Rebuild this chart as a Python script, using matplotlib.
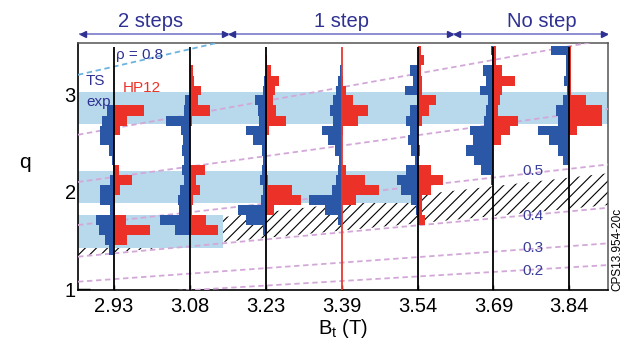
import numpy as np
import matplotlib
matplotlib.use('Agg')
import matplotlib.pyplot as plt
from matplotlib.lines import Line2D

plt.rcParams['font.family'] = ['Liberation Sans', 'DejaVu Sans']
plt.rcParams['mathtext.fontset'] = 'custom'
plt.rcParams['mathtext.rm'] = 'Liberation Sans'
plt.rcParams['hatch.linewidth'] = 0.8

bt_labels = ['2.93', '3.08', '3.23', '3.39', '3.54', '3.69', '3.84']

# q bin edges shared by all histograms (bottom -> top)
q_edges = [1.35, 1.45, 1.56, 1.66, 1.76, 1.86, 1.97, 2.07, 2.17, 2.27, 2.37,
           2.48, 2.58, 2.68, 2.78, 2.89, 2.99, 3.09, 3.19, 3.30, 3.40, 3.50]

# TS exp counts per bin, one row per Bt
ts_exp = [
    [5, 9, 15, 18, 4, 14, 14, 4, 1.5, 2, 5, 14, 14, 12, 7, 0, 0, 0, 0, 0, 0],
    [0, 0, 15, 30, 11, 12, 10, 6, 8, 6, 8, 7, 9, 24, 6, 5, 0, 0, 0, 0, 0],
    [0, 0, 3, 20, 28, 5, 3, 6, 4, 3, 4, 13, 20, 7, 8, 11, 3, 2, 0, 0, 0],
    [0, 0, 0, 4, 17, 33, 10, 6, 4, 3, 7, 14, 20, 9, 12, 9, 6, 4, 2, 0, 0],
    [0, 0, 0, 0, 2, 7, 17, 21, 12, 3, 7, 10, 8, 12, 8, 1, 13, 5, 8, 0, 0],
    [0, 0, 0, 0, 0, 0, 0, 2, 12, 19, 27, 20, 23, 9, 7, 5, 13, 7, 10, 1, 2],
    [0, 0, 0, 0, 0, 0, 0, 0, 0, 6, 11, 20, 31, 11, 13, 6, 2, 5, 3, 3, 18],
]

# HP12 counts per bin
hp12 = [
    [0, 13, 36, 12, 1, 1, 6, 18, 5, 0, 0, 0, 6, 13, 30, 0, 0, 0, 0, 0, 0],
    [0, 0, 28, 16, 2, 3, 10, 6, 15, 0, 0, 0, 0, 2, 20, 8, 11, 4, 3, 0, 0],
    [0, 0, 0, 0, 8, 35, 26, 2, 1, 0, 0, 0, 3, 20, 10, 7, 9, 13, 5, 1, 0],
    [0, 0, 0, 0, 0, 14, 37, 23, 4, 0, 0, 0, 1, 16, 26, 11, 4, 1, 0, 0, 0],
    [0, 0, 0, 7, 4, 4, 13, 25, 13, 0, 2, 0, 0, 4, 11, 18, 4, 4, 3, 6, 3],
    [0, 0, 0, 0, 0, 0, 0, 0, 0, 0, 0, 8, 17, 25, 5, 7, 9, 22, 9, 3, 3],
    [0, 0, 0, 0, 0, 0, 0, 0, 0, 0, 0, 0, 8, 33, 33, 17, 1.5, 1.5, 1.5, 1.5, 1.5],
]

# TS measured q ranges (light blue bands) and where each band ends on the Bt axis
band_lo = [2.695, 1.881, 1.425]
band_hi = [3.027, 2.216, 1.761]
band_end = [6.51, 3.93, 1.43]

# constant-rho q(Bt) curves: q at left and right edge of the plot
rho_names = ['0.8', '0.7', '0.6', '0.5', '0.4', '0.3', '0.2']
rho_q_left = [3.20, 2.585, 2.10, 1.658, 1.333, 1.076, 0.921]
rho_q_right = [4.45, 3.565, 2.85, 2.28, 1.835, 1.47, 1.247]

# hatched region (bottom / top edge at left and right of the plot)
hatch_q_left = [1.342, 1.57]
hatch_q_right = [1.863, 2.19]

x_lo, x_hi = -0.475, 6.51
scale = 1 / 75.8
blue = '#2b57a7'
red = '#ec3228'
navy = '#2e3192'

fig = plt.figure(figsize=(6.27, 3.45), dpi=100)
ax = fig.add_axes([0.1244, 0.158, 0.8453, 0.7165])
ax.set_xlim(x_lo, x_hi)
ax.set_ylim(0.986, 3.524)

ax.fill_between([x_lo, x_hi], [hatch_q_left[0], hatch_q_right[0]],
                [hatch_q_left[1], hatch_q_right[1]], facecolor='white',
                edgecolor='black', hatch='///', linewidth=0, zorder=1)

for lo, hi, end in zip(band_lo, band_hi, band_end):
    ax.fill_between([x_lo, end], lo, hi, color='#b8d8ec', lw=0, zorder=2)

for name, ql, qr in zip(rho_names, rho_q_left, rho_q_right):
    c = '#6db3df' if name == '0.8' else '#d3a8d9'
    ax.plot([x_lo, x_hi], [ql, qr], color=c, ls=(0, (3, 2)), lw=1.3, zorder=3)

edges = np.array(q_edges)
for i in range(len(bt_labels)):
    wb = np.append(ts_exp[i], 0) * scale
    wr = np.append(hp12[i], 0) * scale
    ax.fill_betweenx(edges, i - wb, i, step='post', color=blue, lw=0, zorder=4)
    ax.fill_betweenx(edges, i, i + wr, step='post', color=red, lw=0, zorder=4)

line_colors = ['k', 'k', 'k', '#e53a30', 'k', 'k', 'k']
ax.vlines(range(len(bt_labels)), 0.986, 3.49, colors=line_colors, lw=1.3, zorder=5)

ax.set_xticks(range(len(bt_labels)), bt_labels)
ax.set_yticks([1, 2, 3])
ax.tick_params(axis='x', direction='in', length=3.6, width=1, pad=4.5, labelsize=14.5)
ax.tick_params(axis='y', direction='in', length=8.6, width=1, pad=1.5, labelsize=14.5)
for s in ['left', 'bottom']:
    ax.spines[s].set_linewidth(1.2)
for s in ['top', 'right']:
    ax.spines[s].set_color('#555555')
    ax.spines[s].set_linewidth(1.1)

# in-plot annotations
ax.text(0.03, 3.40, 'ρ = 0.8', color=navy, fontsize=11, ha='left', va='center', zorder=6)
ax.text(-0.368, 3.137, 'TS', color=navy, fontsize=11, ha='left', va='center', zorder=6)
ax.text(-0.368, 2.92, 'exp', color=navy, fontsize=11, ha='left', va='center', zorder=6)
ax.text(0.116, 3.065, 'HP12', color=red, fontsize=11, ha='left', va='center', zorder=6)
for name, q in zip(['0.5', '0.4', '0.3', '0.2'], [2.21, 1.75, 1.427, 1.186]):
    ax.text(5.375, q, name, color='#3a3f9a', fontsize=11, ha='left', va='center', zorder=6)

fig.text(343 / 627, 1 - 328 / 345, r'B$_\mathregular{t}$ (T)', fontsize=14.5,
         ha='center', va='center')
fig.text(25 / 627, 1 - 163 / 345, 'q', fontsize=15, ha='center', va='center')
fig.text(617 / 627, 1 - 249.5 / 345, 'CPS13.954-20c', fontsize=8.5, rotation=90,
         ha='center', va='center')

# regime brackets above the plot
def span_arrow(x0, x1, label, xc, y=34):
    yf = 1 - y / 345
    fig.add_artist(Line2D([x0 / 627, x1 / 627], [yf, yf], color='#8b8dd0', lw=1.4,
                          transform=fig.transFigure))
    fig.add_artist(Line2D([(x0 + 3) / 627], [yf], marker='<', ms=4.5, color=navy,
                          transform=fig.transFigure))
    fig.add_artist(Line2D([(x1 - 3) / 627], [yf], marker='>', ms=4.5, color=navy,
                          transform=fig.transFigure))
    fig.text(xc / 627, 1 - 27.3 / 345, label, color=navy, fontsize=14.5,
             ha='center', va='baseline')

span_arrow(80, 228, '2 steps', 150.8)
span_arrow(229, 453, '1 step', 341.7)
span_arrow(454, 607, 'No step', 541.7)

fig.savefig('out.png', dpi=100)
